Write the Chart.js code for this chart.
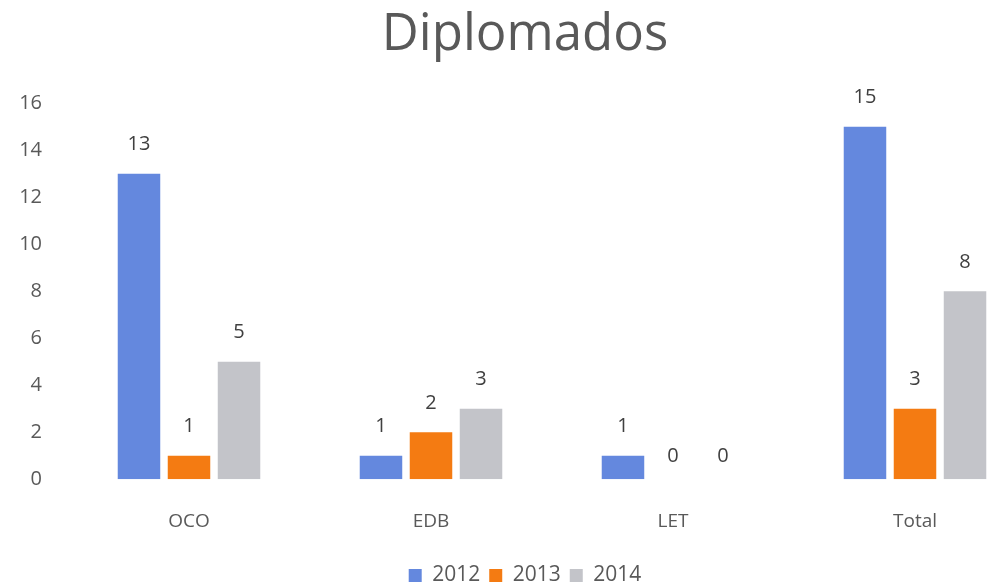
<!DOCTYPE html>
<html>
<head>
<meta charset="utf-8">
<script src="https://cdn.jsdelivr.net/npm/chart.js@4"></script>
<style>
  html, body { margin: 0; padding: 0; background: #fff; overflow: hidden; }
  #wrap { position: relative; width: 1068px; height: 596px; }
</style>
</head>
<body>
<div id="wrap"><canvas id="chart"></canvas></div>
<script>
const categories = ['OCO', 'EDB', 'LET', 'Total'];
const years = ['2012', '2013', '2014'];
const values2012 = [13, 1, 1, 15];
const values2013 = [1, 2, 0, 3];
const values2014 = [5, 3, 0, 8];
const yTicks = [0, 2, 4, 6, 8, 10, 12, 14, 16];

const colors = ['#6488DE', '#F47B12', '#C3C4C9'];

// labels above each bar, drawn by hand since no datalabels plugin is available
const barLabels = {
    id: 'barLabels',
    afterDatasetsDraw(chart) {
        const c = chart.ctx;
        c.save();
        c.font = '20px "Open Sans"';
        c.fillStyle = '#404040';
        c.textAlign = 'center';
        c.textBaseline = 'middle';
        chart.data.datasets.forEach((ds, i) => {
            const meta = chart.getDatasetMeta(i);
            meta.data.forEach((bar, j) => {
                const off = ds.data[j] === 0 ? 23 : 29;
                c.fillText(ds.data[j], bar.x, bar.y - off);
            });
        });
        c.restore();
    }
};

const ctx = document.getElementById('chart');

const chart = new Chart(ctx, {
    type: 'bar',
    data: {
        labels: categories,
        datasets: [
            { label: years[0], data: values2012, backgroundColor: colors[0] },
            { label: years[1], data: values2013, backgroundColor: colors[1] },
            { label: years[2], data: values2014, backgroundColor: colors[2] }
        ]
    },
    options: {
        responsive: true,
        maintainAspectRatio: false,
        animation: false,
        categoryPercentage: 0.62,
        barPercentage: 0.85,
        layout: { padding: { left: 14, right: 32, top: 0, bottom: 0 } },
        plugins: {
            title: {
                display: true,
                text: 'Diplomados',
                color: '#595959',
                font: { family: 'Open Sans', size: 51, weight: 'normal' },
                padding: { top: 5, bottom: 37 }
            },
            legend: {
                position: 'bottom',
                labels: {
                    color: '#595959',
                    font: { family: 'Open Sans', size: 21 },
                    boxWidth: 13,
                    boxHeight: 13,
                    padding: 9
                }
            },
            tooltip: { enabled: false }
        },
        scales: {
            x: {
                grid: { display: false },
                border: { display: false },
                ticks: {
                    color: '#595959',
                    font: { family: 'Open Sans', size: 19 },
                    padding: 23
                }
            },
            y: {
                min: 0,
                max: 16,
                afterBuildTicks: axis => { axis.ticks = yTicks.map(v => ({ value: v })); },
                afterFit: axis => { axis.width = 54; },
                grid: { display: false },
                border: { display: false },
                ticks: {
                    color: '#595959',
                    font: { family: 'Open Sans', size: 20 },
                    padding: 18
                }
            }
        }
    },
    plugins: [barLabels]
});
</script>
</body>
</html>
